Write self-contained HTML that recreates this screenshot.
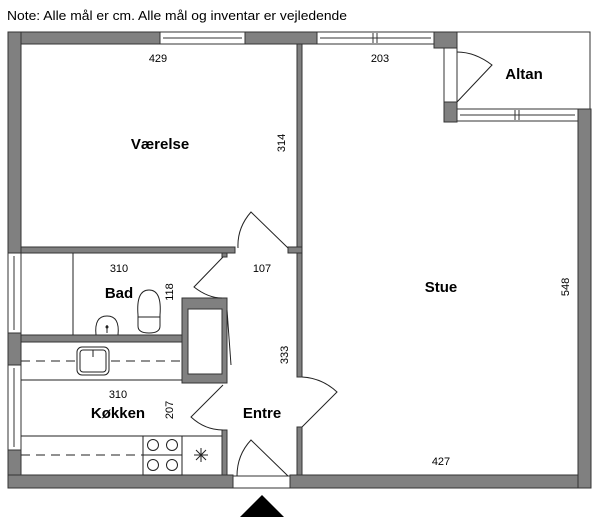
<!DOCTYPE html>
<html><head><meta charset="utf-8"><style>
html,body{margin:0;padding:0;background:#fff;width:600px;height:523px;overflow:hidden}
svg{display:block}
text{font-family:"Liberation Sans",sans-serif;fill:#000}
.b{font-weight:bold;font-size:15px}
.n{font-size:11px}
</style></head><body>
<svg width="600" height="523" viewBox="0 0 600 523" xmlns="http://www.w3.org/2000/svg">
<text x="7" y="20" font-size="13" textLength="340" lengthAdjust="spacingAndGlyphs">Note: Alle mål er cm. Alle mål og inventar er vejledende</text>
<g fill="#808080" stroke="#333" stroke-width="1">
<rect x="8" y="32" width="152" height="12"/>
<rect x="245" y="32" width="72" height="12"/>
<rect x="434" y="32" width="23" height="16"/>
<rect x="8" y="32" width="13" height="221"/>
<rect x="8" y="333" width="13" height="32"/>
<rect x="8" y="450" width="13" height="38"/>
<rect x="8" y="475" width="225" height="13"/>
<rect x="290" y="475" width="301" height="13"/>
<rect x="578" y="109" width="13" height="379"/>
<rect x="444" y="102" width="13" height="20"/>
<rect x="21" y="247" width="214" height="6"/>
<rect x="297" y="44" width="5" height="209"/>
<rect x="288" y="247" width="14" height="6"/>
<rect x="297" y="253" width="5" height="124"/>
<rect x="297" y="427" width="5" height="48"/>
<rect x="21" y="335" width="162" height="7"/>
<rect x="222" y="253" width="5" height="4"/>
<rect x="182" y="298" width="45" height="85"/>
<rect x="222" y="430" width="5" height="45"/>
</g>
<rect x="188" y="309" width="34" height="65" fill="#fff" stroke="#333"/>
<g fill="#fff" stroke="#333" stroke-width="1">
<rect x="160" y="32" width="85" height="12"/><line x1="163" y1="38" x2="242" y2="38"/>
<rect x="317" y="32" width="117" height="12"/><line x1="320" y1="38" x2="431" y2="38"/>
<line x1="373" y1="33" x2="373" y2="43"/><line x1="377" y1="33" x2="377" y2="43"/>
<rect x="457" y="109" width="121" height="12"/><line x1="460" y1="115" x2="575" y2="115"/>
<line x1="515" y1="110" x2="515" y2="120"/><line x1="519" y1="110" x2="519" y2="120"/>
<rect x="8" y="253" width="13" height="80"/><line x1="14" y1="256" x2="14" y2="330"/>
<rect x="8" y="365" width="13" height="85"/><line x1="14" y1="368" x2="14" y2="447"/>
<rect x="444" y="48" width="13" height="54"/>
<rect x="233" y="476" width="57" height="12"/>
</g>
<polyline points="457,32 590,32 590,109" fill="none" stroke="#333"/>
<g fill="none" stroke="#222" stroke-width="1">
<path d="M288,248 L251,212 Q237,228 238,248"/>
<path d="M223,257 L194,287 Q208,298 222,298"/>
<path d="M223,385 L191,417 Q205,430 223,430"/>
<path d="M302,427 L337,392 Q322,378 302,377"/>
<path d="M288,476 L251,440 Q237,455 237,476"/>
<path d="M457,102 L492,65 Q475,52 457,52"/>
<line x1="227" y1="310" x2="231" y2="365"/>
<line x1="73" y1="253" x2="73" y2="335"/>
<path d="M96,335 Q94,316 107,316 Q120,316 118,335"/>
<line x1="107" y1="325" x2="107" y2="333"/>
<circle cx="107" cy="327" r="1"/>
<path d="M138,315 Q136,290 149,290 Q162,290 160,315 L160,326 Q160,333 149,333 Q138,333 138,326 Z"/>
<line x1="138" y1="317" x2="160" y2="317"/>
<line x1="21" y1="380" x2="182" y2="380"/>
<line x1="21" y1="361" x2="182" y2="361" stroke-dasharray="9,6"/>
<rect x="77" y="347" width="32" height="28" rx="5" fill="#fff"/>
<rect x="80" y="350" width="26" height="22" rx="3"/>
<line x1="93" y1="350" x2="93" y2="357"/>
<line x1="21" y1="436" x2="222" y2="436"/>
<line x1="21" y1="455" x2="143" y2="455" stroke-dasharray="9,6"/>
<rect x="143" y="436" width="39" height="39"/>
<line x1="143" y1="455" x2="182" y2="455"/>
<circle cx="153" cy="445" r="5.5"/><circle cx="172" cy="445" r="5.5"/>
<circle cx="153" cy="465" r="5.5"/><circle cx="172" cy="465" r="5.5"/>
<path d="M201,448 L201,462 M194,455 L208,455 M196,450 L206,460 M206,450 L196,460"/>
</g>
<polygon points="240,517 284,517 262,495" fill="#000"/>
<text class="n" x="158" y="62" text-anchor="middle">429</text>
<text class="n" x="380" y="62" text-anchor="middle">203</text>
<text class="b" x="160" y="149" text-anchor="middle">Værelse</text>
<text class="n" transform="translate(285,143) rotate(-90)" text-anchor="middle">314</text>
<text class="n" x="262" y="272" text-anchor="middle">107</text>
<text class="n" x="119" y="272" text-anchor="middle">310</text>
<text class="b" x="119" y="298" text-anchor="middle">Bad</text>
<text class="n" transform="translate(173,292) rotate(-90)" text-anchor="middle">118</text>
<text class="n" transform="translate(288,355) rotate(-90)" text-anchor="middle">333</text>
<text class="n" x="118" y="398" text-anchor="middle">310</text>
<text class="b" x="118" y="418" text-anchor="middle">Køkken</text>
<text class="n" transform="translate(173,410) rotate(-90)" text-anchor="middle">207</text>
<text class="b" x="262" y="418" text-anchor="middle">Entre</text>
<text class="b" x="441" y="292" text-anchor="middle">Stue</text>
<text class="n" transform="translate(569,287) rotate(-90)" text-anchor="middle">548</text>
<text class="n" x="441" y="465" text-anchor="middle">427</text>
<text class="b" x="524" y="79" text-anchor="middle">Altan</text>
</svg>
</body></html>
